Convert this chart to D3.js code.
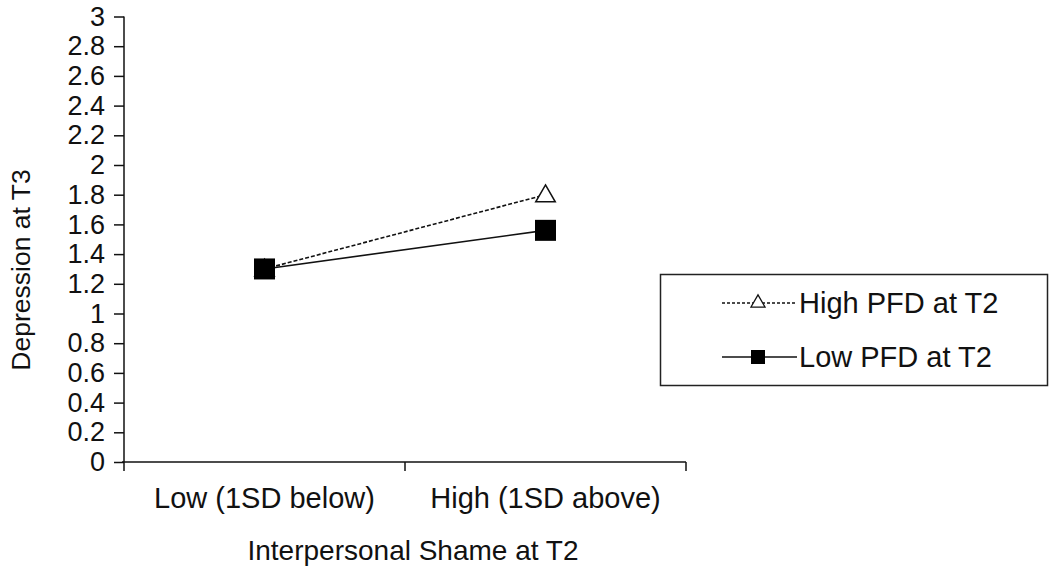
<!DOCTYPE html>
<html><head><meta charset="utf-8">
<script src="https://d3js.org/d3.v7.min.js"></script>
<style>body{margin:0;background:#fff}svg{display:block}text{font-family:"Liberation Sans",Arial,sans-serif;fill:#111}</style>
</head><body><svg id="c" width="1050" height="567"></svg>
<script>
const categories = ["Low (1SD below)", "High (1SD above)"];
const highPFD = [1.30, 1.80];
const lowPFD = [1.30, 1.56];
const yTicks = [0,0.2,0.4,0.6,0.8,1,1.2,1.4,1.6,1.8,2,2.2,2.4,2.6,2.8,3];
const seriesNames = ["High PFD at T2", "Low PFD at T2"];
const yTitle = "Depression at T3";
const xTitle = "Interpersonal Shame at T2";

const svg = d3.select("#c");
const x = d3.scaleBand().domain(categories).range([124, 686]);
const y = d3.scaleLinear().domain([0, 3]).range([462, 16.5]);

// y axis
const ya = svg.append("g").attr("transform","translate(124,0)")
  .call(d3.axisLeft(y).tickValues(yTicks).tickSize(10).tickPadding(9).tickFormat(d=>String(+d.toFixed(1))));
ya.selectAll("text").style("font-size","27px").attr("fill","#111");
ya.selectAll("line,path").attr("stroke","#111").attr("stroke-width",1.5);
ya.select(".domain").attr("d","M0,"+y(3)+"V"+y(0));

// x axis
const xa = svg.append("g").attr("transform","translate(0,462)");
xa.append("line").attr("x1",x.range()[0]-2).attr("x2",x.range()[1]).attr("stroke","#111").attr("stroke-width",1.5);
const bounds = [x.range()[0], x(categories[1]), x.range()[1]];
xa.selectAll("line.t").data(bounds).enter().append("line").attr("class","t")
  .attr("x1",d=>d).attr("x2",d=>d).attr("y1",0).attr("y2",9).attr("stroke","#111").attr("stroke-width",1.5);
xa.selectAll("text").data(categories).enter().append("text")
  .attr("x",d=>x(d)+x.bandwidth()/2).attr("y",46).attr("text-anchor","middle").style("font-size","29px").text(d=>d);

svg.append("text").attr("x",413).attr("y",560).attr("text-anchor","middle").style("font-size","28px").text(xTitle);
svg.append("text").attr("transform","translate(30,270) rotate(-90)").attr("text-anchor","middle").style("font-size","26.5px").text(yTitle);

const cx = d => x(d)+x.bandwidth()/2;
const line = d3.line().x(d=>cx(d.c)).y(d=>y(d.v));
const hi = categories.map((c,i)=>({c, v:highPFD[i]}));
const lo = categories.map((c,i)=>({c, v:lowPFD[i]}));

svg.append("path").datum(hi).attr("d",line).attr("fill","none").attr("stroke","#111").attr("stroke-width",1.6).attr("stroke-dasharray","4,2");
svg.append("path").datum(lo).attr("d",line).attr("fill","none").attr("stroke","#111").attr("stroke-width",1.6);

const tri = d3.symbol().type(d3.symbolTriangle);
svg.selectAll("path.tri").data(hi).enter().append("path").attr("class","tri")
  .attr("d",tri.size(165)).attr("transform",d=>`translate(${cx(d.c)},${y(d.v)+1.5})`)
  .attr("fill","#fff").attr("stroke","#111").attr("stroke-width",1.5);
svg.selectAll("rect.sq").data(lo).enter().append("rect").attr("class","sq")
  .attr("x",d=>cx(d.c)-10.5).attr("y",d=>y(d.v)-10.5).attr("width",21).attr("height",21).attr("fill","#000");

// legend
const lg = svg.append("g");
lg.append("rect").attr("x",660.5).attr("y",274.5).attr("width",387).attr("height",111).attr("fill","#fff").attr("stroke","#222").attr("stroke-width",1.5);
const rows = [303, 357];
lg.append("line").attr("x1",722).attr("x2",797).attr("y1",rows[0]).attr("y2",rows[0]).attr("stroke","#111").attr("stroke-width",1.3).attr("stroke-dasharray","3,2");
lg.append("path").attr("d",d3.symbol().type(d3.symbolTriangle).size(85)()).attr("transform",`translate(758,${rows[0]})`).attr("fill","#fff").attr("stroke","#111").attr("stroke-width",1.3);
lg.append("line").attr("x1",722).attr("x2",797).attr("y1",rows[1]).attr("y2",rows[1]).attr("stroke","#111").attr("stroke-width",1.5);
lg.append("rect").attr("x",751).attr("y",rows[1]-7).attr("width",14).attr("height",14).attr("fill","#000");
lg.selectAll("text").data(seriesNames).enter().append("text").attr("x",799).attr("y",(d,i)=>rows[i]+10).style("font-size","29px").text(d=>d);
</script></body></html>
